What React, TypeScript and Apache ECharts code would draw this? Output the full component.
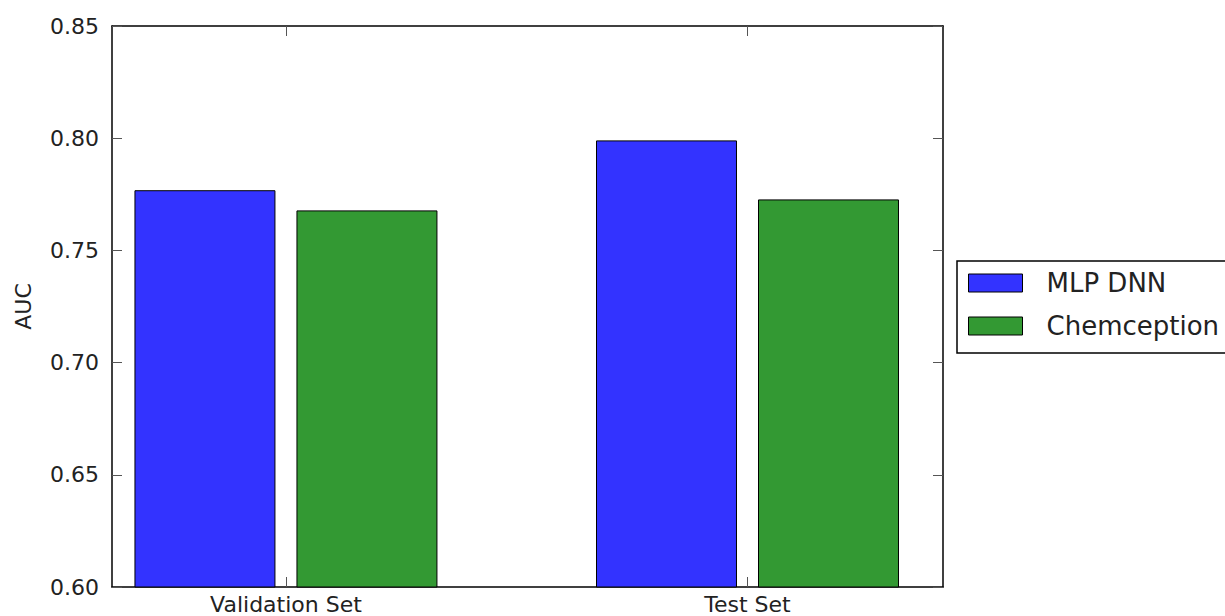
import React, { useEffect, useRef } from "react";
import * as echarts from "echarts";

const CATEGORIES = ["Validation Set", "Test Set"];
const SERIES_NAMES = ["MLP DNN", "Chemception"];
const MLP_DNN = [0.7766, 0.7988];
const CHEMCEPTION = [0.7676, 0.7725];
const Y_MIN = 0.6;
const Y_MAX = 0.85;
const Y_STEP = 0.05;

const COLORS = ["#3333ff", "#339933"];
const FONT = "DejaVu Sans";
const BAR_W = 0.3033;
const BAR_OFFSETS = [-0.1755, 0.1755];
const X_MIN = -0.3769;
const X_MAX = 1.4236;

export default function App() {
  const ref = useRef<HTMLDivElement>(null);
  useEffect(() => {
    if (!ref.current) return;
    const chart = echarts.init(ref.current, null, { renderer: "svg" });
    const seriesValues = [MLP_DNN, CHEMCEPTION];
    const catIdx = CATEGORIES.map((_, i) => i);
    const series = SERIES_NAMES.map((name, si) => ({
      type: "custom",
      name,
      xAxisIndex: 0,
      yAxisIndex: 0,
      encode: { x: 0, y: 1 },
      data: seriesValues[si].map((v, i) => [i, v]),
      itemStyle: { color: COLORS[si] },
      renderItem: (params: any, api: any) => {
        const idx = api.value(0);
        const val = api.value(1);
        const x0 = idx + BAR_OFFSETS[si] - BAR_W / 2;
        const p1 = api.coord([x0, val]);
        const p2 = api.coord([x0 + BAR_W, Y_MIN]);
        return {
          type: "rect",
          shape: { x: p1[0], y: p1[1], width: p2[0] - p1[0], height: p2[1] - p1[1] },
          style: { fill: COLORS[si], stroke: "#000", lineWidth: 1 },
        };
      },
    }));
    const axisLine = { show: true, onZero: false, lineStyle: { color: "#000", width: 1.5 } };
    const tick = { show: true, inside: true, length: 10, lineStyle: { color: "#555", width: 1 } };
    chart.setOption({
      animation: false,
      backgroundColor: "#fff",
      textStyle: { fontFamily: FONT },
      grid: { left: 112, top: 26, right: 282, bottom: 29, outerBoundsMode: "none" },
      legend: {
        orient: "vertical",
        left: 957,
        top: 261,
        padding: [9, 14, 14, 11],
        itemWidth: 54,
        itemHeight: 18,
        itemGap: 17,
        borderColor: "#000",
        borderWidth: 1.5,
        icon: "rect",
        data: SERIES_NAMES.map((n, i) => ({
          name: n,
          itemStyle: { color: COLORS[i], borderColor: "#000", borderWidth: 1 },
        })),
        textStyle: { fontSize: 26, lineHeight: 26, color: "#222", fontFamily: FONT, padding: [0, 0, 0, 19] },
      },
      xAxis: [
        {
          type: "value",
          position: "bottom",
          min: X_MIN,
          max: X_MAX,
          axisLine,
          splitLine: { show: false },
          axisTick: { ...tick, customValues: catIdx },
          axisLabel: {
            customValues: catIdx,
            formatter: (v: number) => CATEGORIES[Math.round(v)] ?? "",
            fontSize: 22,
            color: "#222",
            fontFamily: FONT,
            margin: 6,
          },
        },
        {
          type: "value",
          position: "top",
          min: X_MIN,
          max: X_MAX,
          axisLine,
          splitLine: { show: false },
          axisTick: { ...tick, customValues: catIdx },
          axisLabel: { show: false },
        },
      ],
      yAxis: [
        {
          type: "value",
          position: "left",
          min: Y_MIN,
          max: Y_MAX,
          interval: Y_STEP,
          axisLine,
          splitLine: { show: false },
          axisTick: tick,
          axisLabel: {
            formatter: (v: number) => v.toFixed(2),
            fontSize: 22,
            color: "#222",
            fontFamily: FONT,
            margin: 13,
          },
          name: "AUC",
          nameLocation: "middle",
          nameRotate: 90,
          nameGap: 78,
          nameTextStyle: { fontSize: 22, color: "#222", fontFamily: FONT },
        },
        {
          type: "value",
          position: "right",
          min: Y_MIN,
          max: Y_MAX,
          interval: Y_STEP,
          axisLine,
          splitLine: { show: false },
          axisTick: tick,
          axisLabel: { show: false },
        },
      ],
      series,
    });
    return () => chart.dispose();
  }, []);
  return (
    <div
      ref={ref}
      style={{ position: "absolute", left: 0, top: 0, width: 1225, height: 616 }}
    />
  );
}
